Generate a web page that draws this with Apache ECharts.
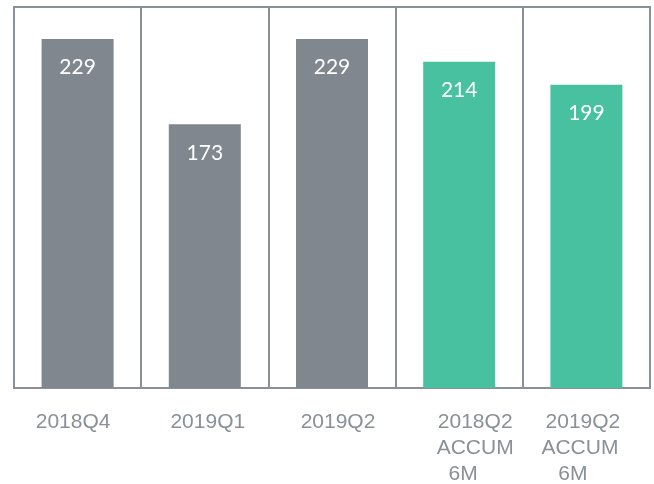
<!DOCTYPE html>
<html>
<head>
<meta charset="utf-8">
<script src="https://cdn.jsdelivr.net/npm/echarts@6/dist/echarts.min.js"></script>
<style>
  html, body { margin: 0; padding: 0; background: #fff; }
  #chart { width: 654px; height: 484px; }
</style>
</head>
<body>
<div id="chart"></div>
<script>
  // categories and values
  const categories = ['2018Q4', '2019Q1', '2019Q2', '2018Q2\nACCUM\n6M', '2019Q2\nACCUM\n6M']
  const values = [229, 173, 229, 214, 199]
  const barColors = ['#80878f', '#80878f', '#80878f', '#47c1a0', '#47c1a0']

  const lineColor = '#8a9098'
  // small nudges for the axis labels (per line, px of padding)
  const labelPad = [
    [[0, 9, 0, 0]],
    [[0, 0, 0, 6]],
    [[0, 0, 0, 12]],
    [[0, 0, 0, 32], [0, 0, 0, 32], [0, 0, 0, 8]],
    [[0, 7, 0, 0], [0, 13, 0, 0], [0, 27, 0, 0]],
  ]

  const rich = {}
  labelPad.forEach((lines, i) => {
    lines.forEach((p, j) => {
      rich['l' + i + '_' + j] = { padding: p, fontSize: 21, lineHeight: 26, color: lineColor, fontFamily: 'Liberation Sans, Arial, sans-serif' }
    })
  })

  const chart = echarts.init(document.getElementById('chart'))
  chart.setOption({
    animation: false,
    grid: {
      left: 14,
      right: 4,
      top: 7,
      bottom: 96,
      show: true,
      borderColor: lineColor,
      borderWidth: 2,
      outerBoundsMode: 'none',
      containLabel: false,
    },
    xAxis: {
      type: 'category',
      data: categories,
      axisTick: { show: false },
      axisLine: { show: true, lineStyle: { color: lineColor, width: 2 } },
      splitLine: { show: true, interval: 0, lineStyle: { color: lineColor, width: 2 } },
      axisLabel: {
        interval: 0,
        margin: 21,
        formatter: (val, idx) => {
          return val.split('\n').map((t, j) => `{l${idx}_${j}|${t}}`).join('\n')
        },
        rich: rich,
      },
    },
    yAxis: {
      type: 'value',
      min: 0,
      max: 250,
      show: false,
      splitLine: { show: false },
    },
    series: [
      {
        type: 'bar',
        barWidth: 72,
        data: values.map((v, i) => ({ value: v, itemStyle: { color: barColors[i] } })),
        label: {
          show: true,
          position: 'insideTop',
          distance: 18,
          color: '#fff',
          fontSize: 21,
          fontFamily: 'Lato, Open Sans, sans-serif',
        },
      },
    ],
  })
</script>
</body>
</html>
